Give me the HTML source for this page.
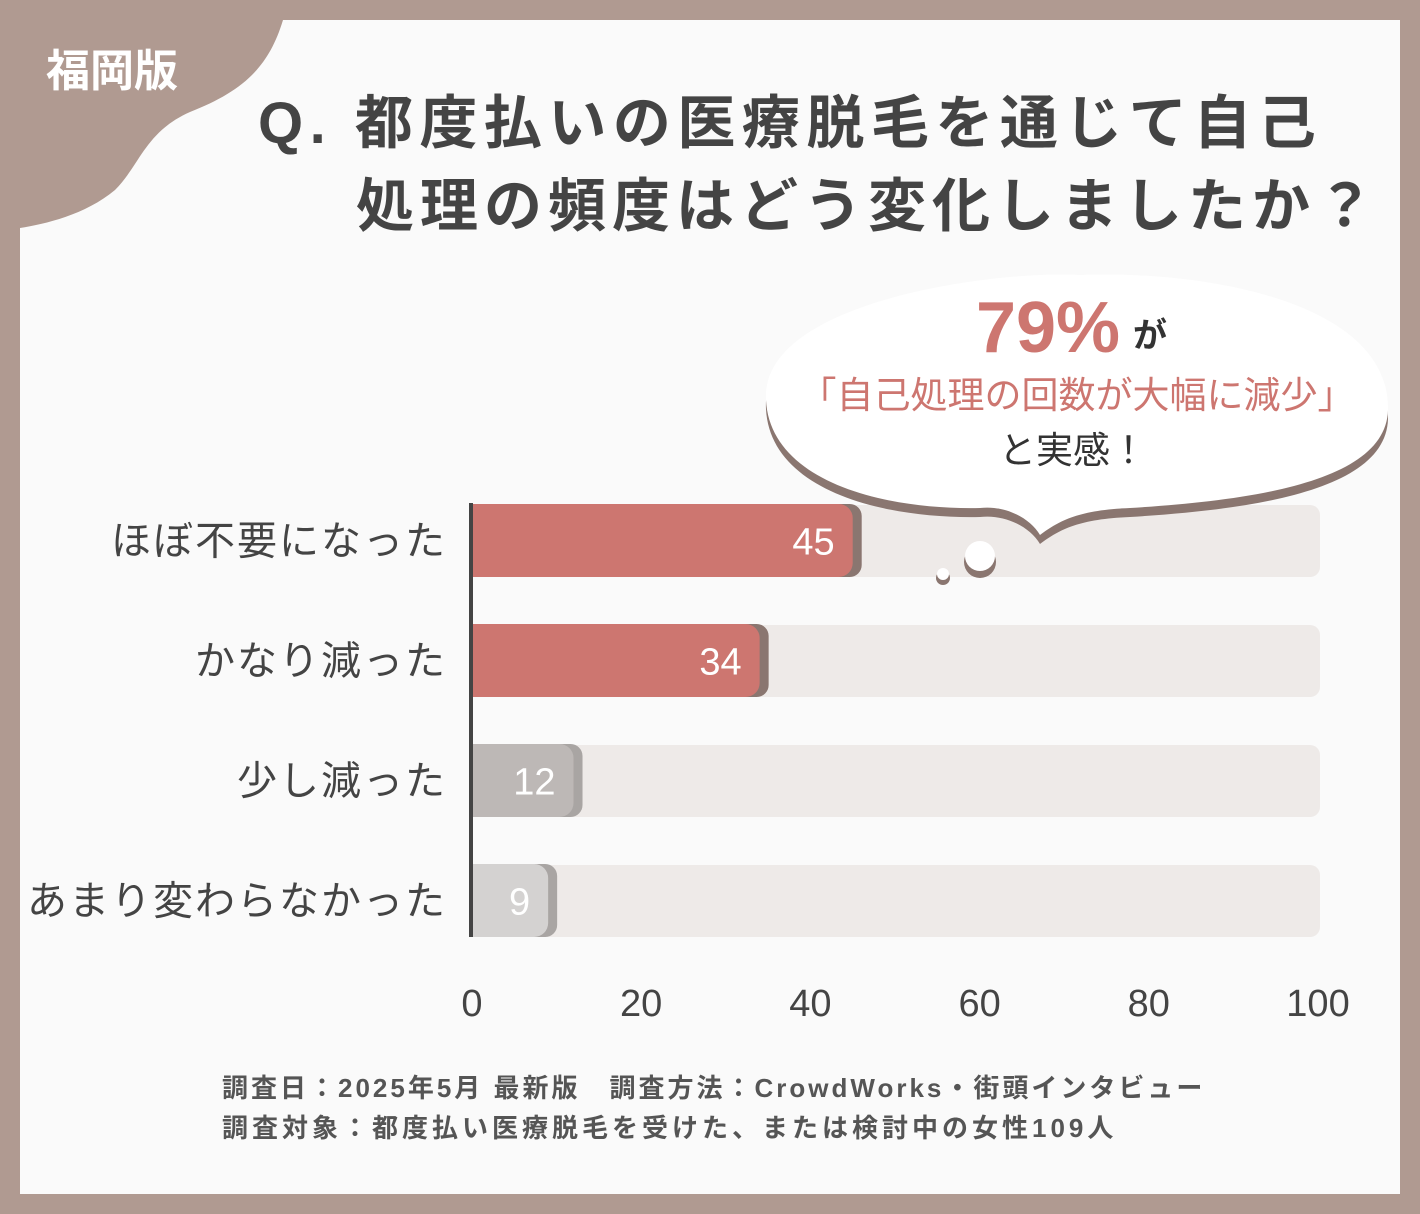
<!DOCTYPE html>
<html><head><meta charset="utf-8"><style>
html,body{margin:0;padding:0;}
body{width:1420px;height:1214px;background:#b09a91;position:relative;overflow:hidden;font-family:"Liberation Sans","Noto Sans CJK JP",sans-serif;}
</style></head><body>
<svg width="1420" height="1214" viewBox="0 0 1420 1214" xmlns="http://www.w3.org/2000/svg" style="position:absolute;left:0;top:0">
<rect x="20" y="20" width="1380" height="1174" fill="#fafafa"/>
<path d="M20,20 H283 C268,70 240,92 190,112 C145,132 140,165 115,190 C85,215 45,224 20,228 Z" fill="#b09a91"/>
<text x="112" y="86" font-size="44" font-weight="bold" fill="#ffffff" text-anchor="middle" font-family="Liberation Sans,Noto Sans CJK JP,sans-serif">福岡版</text>
<text x="258" y="143" font-size="58" font-weight="bold" fill="#444" font-family="Liberation Sans,Noto Sans CJK JP,sans-serif" letter-spacing="6.5">Q. 都度払いの医療脱毛を通じて自己</text>
<text x="356" y="226" font-size="58" font-weight="bold" fill="#444" font-family="Liberation Sans,Noto Sans CJK JP,sans-serif" letter-spacing="6">処理の頻度はどう変化しましたか？</text>
<g id="bars"></g>
<g id="bubble">
<path d="M766,400 C760,300 1000,270 1080,275 C1200,270 1390,300 1388,410 C1386,480 1260,500 1130,508 C1080,510 1060,520 1040,535 C1030,518 1005,505 980,508 C880,510 770,480 766,400 Z" fill="#8a7670" transform="translate(0,9)"/>
<path d="M766,400 C760,300 1000,270 1080,275 C1200,270 1390,300 1388,410 C1386,480 1260,500 1130,508 C1080,510 1060,520 1040,535 C1030,518 1005,505 980,508 C880,510 770,480 766,400 Z" fill="#ffffff"/>
<circle cx="980" cy="562" r="16" fill="#8a7670"/><circle cx="980" cy="556" r="15" fill="#fff"/>
<circle cx="943" cy="578" r="7" fill="#8a7670"/><circle cx="943" cy="574" r="6" fill="#fff"/>
<text x="1048" y="352" font-size="72" font-weight="bold" fill="#cd7670" text-anchor="middle">79%</text>
<text x="1150" y="347" font-size="34" font-weight="bold" fill="#333" text-anchor="middle">が</text>
<text x="1077" y="408" font-size="37" fill="#cd7670" text-anchor="middle">「自己処理の回数が大幅に減少」</text>
<text x="1073" y="463" font-size="37" fill="#333" text-anchor="middle">と実感！</text>
</g>
<g id="axis"></g>
<text x="222" y="1097" font-size="26" font-weight="bold" fill="#555" letter-spacing="3">調査日：2025年5月 最新版　調査方法：CrowdWorks・街頭インタビュー</text>
<text x="222" y="1137" font-size="26" font-weight="bold" fill="#555" letter-spacing="4">調査対象：都度払い医療脱毛を受けた、または検討中の女性109人</text>
</svg>
<script>
const categories = ["ほぼ不要になった","かなり減った","少し減った","あまり変わらなかった"];
const values = [45,34,12,9];
const ticks = [0,20,40,60,80,100];
const NS="http://www.w3.org/2000/svg";
const x0=472, x1=1318, xMax=100;
function xs(v){return x0+(v/xMax)*(x1-x0);}
const rowTop=504, rowStep=120, barH=73;
function ys(i){return rowTop+i*rowStep;}
function mk(tag,attrs,parent){const e=document.createElementNS(NS,tag);for(const k in attrs)e.setAttribute(k,attrs[k]);parent.appendChild(e);return e;}
const g=document.getElementById('bars');
categories.forEach((c,i)=>{
  const y=ys(i);
  const track=mk('rect',{x:x0,y:y+1,width:xs(100)-x0+2,height:barH-1,rx:10,fill:'#eeeae8'},g);
  
  
  const hi=i<2;
  const col=hi?'#cd7670':(i===2?'#bdb8b6':'#d4d2d1');
  const sh=hi?'#8a7670':'#a9a5a3';
  const w=xs(values[i])-x0;
  const s=mk('path',{d:`M${x0},${y} H${x0+w-3} a12,12 0 0 1 12,12 V${y+barH-12} a12,12 0 0 1 -12,12 H${x0} Z`,fill:sh},g);
  
  
  const b=mk('path',{d:`M${x0},${y} H${x0+w-14} a14,14 0 0 1 14,14 V${y+barH-14} a14,14 0 0 1 -14,14 H${x0} Z`,fill:col},g);
  
  
  const t=mk('text',{x:x0+w-18,y:y+barH/2+14,'font-size':38,fill:'#fff','text-anchor':'end'},g);
  t.textContent=values[i];
  
  
  const l=mk('text',{x:447,y:y+barH/2+14,'font-size':40,fill:'#444','text-anchor':'end','letter-spacing':'2'},g);
  l.textContent=categories[i];
  
  
});
const a=document.getElementById('axis');
const ax=mk('rect',{x:x0-3,y:503,width:4,height:434,fill:'#444'},a);


ticks.forEach(v=>{
  const t=mk('text',{x:xs(v),y:1016,'font-size':38,fill:'#444','text-anchor':'middle'},a);
  t.textContent=v;
  
  
});
</script>
</body></html>
